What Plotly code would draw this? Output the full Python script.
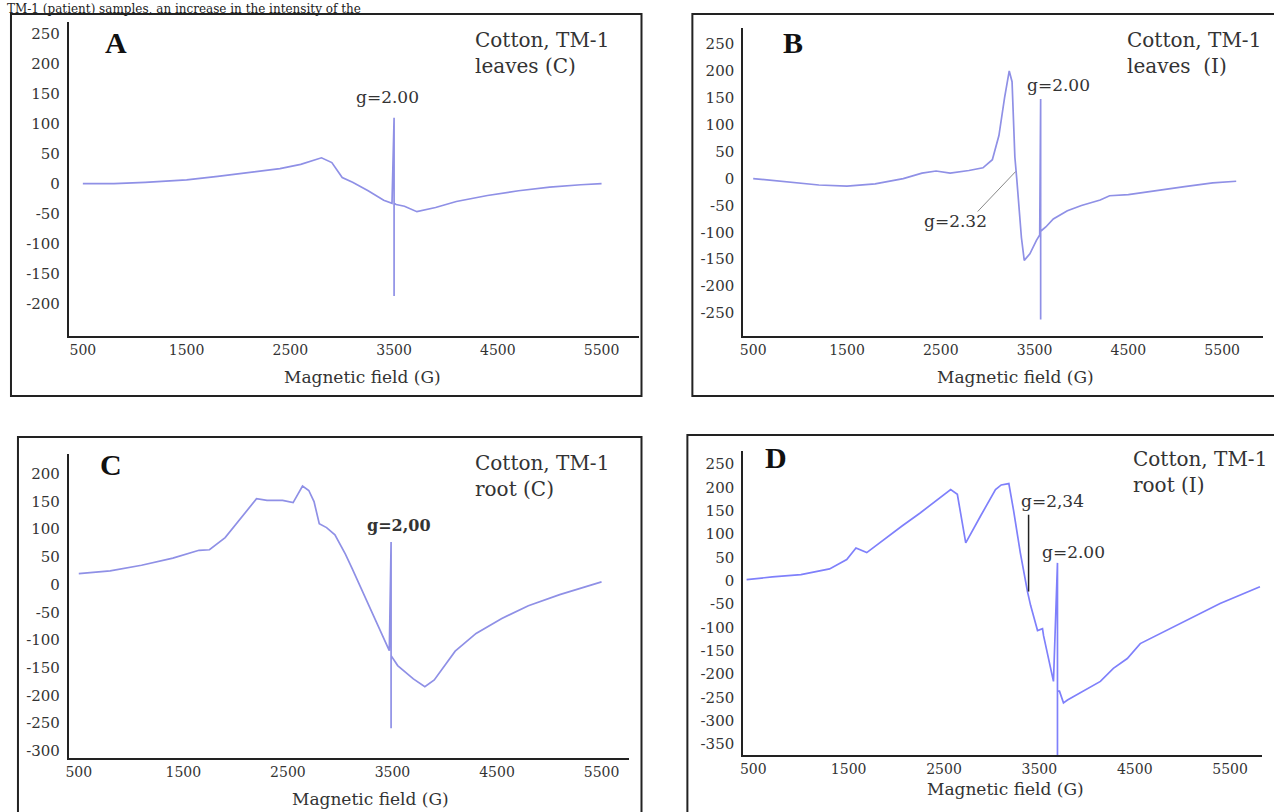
import plotly.graph_objects as go

W, H = 1274, 812

# ---------------- data ----------------
field_A = [500, 800, 1100, 1500, 1800, 2100, 2400, 2600, 2800, 2900, 3000, 3100, 3250, 3400, 3480,
           3500, 3500, 3500, 3520, 3600, 3720, 3900, 4100, 4400, 4700, 5000, 5300, 5500]
signal_A = [0, 0, 2, 6, 12, 18, 25, 32, 43, 35, 10, 2, -12, -28, -33,
            110, -188, -33, -35, -38, -47, -40, -30, -20, -12, -6, -2, 0]

field_B = [500, 800, 1200, 1500, 1800, 2100, 2300, 2450, 2600, 2800, 2950, 3050, 3120, 3180, 3230,
           3260, 3290, 3310, 3360, 3390, 3450, 3520, 3555,
           3565, 3565, 3565, 3620, 3700, 3850, 4000, 4200, 4300, 4500, 4800, 5100, 5400, 5650]
signal_B = [0, -5, -12, -14, -10, 0, 10, 14, 10, 15, 20, 35, 80, 150, 200,
            180, 40, 0, -110, -152, -140, -115, -105,
            148, -262, -98, -90, -75, -60, -50, -40, -32, -30, -22, -15, -8, -5]

field_C = [500, 800, 1100, 1400, 1650, 1750, 1900, 2050, 2200, 2300, 2450, 2550, 2640, 2700, 2750,
           2800, 2870, 2950, 3050, 3115, 3277, 3400, 3470,
           3487, 3487, 3487, 3550, 3700, 3810, 3900, 4100, 4300, 4546, 4800, 5100, 5400, 5500]
signal_C = [20, 25, 35, 48, 62, 63, 85, 120, 155, 152, 152, 148, 178, 170, 150,
            110, 103, 90, 55, 29, -38, -90, -119,
            77, -259, -128, -146, -170, -184, -172, -120, -88, -61, -38, -18, 0, 5]

field_D = [430, 700, 1000, 1300, 1480, 1577, 1690, 1850, 2060, 2250, 2430, 2570, 2640, 2728,
           2885, 2960, 3040, 3100, 3180, 3230, 3300, 3376, 3408, 3481, 3533, 3544, 3617, 3648,
           3690, 3690, 3690, 3711, 3753, 3795, 3962, 4140, 4276, 4422, 4558, 4976, 5395, 5813]
signal_D = [2, 8, 13, 25, 45, 70, 60, 85, 117, 145, 172, 195, 185, 81,
            139, 165, 195, 205, 208, 150, 60, -24, -53, -107, -103, -118, -188, -216,
            38, -374, -237, -237, -262, -256, -237, -216, -188, -167, -135, -92, -49, -13]

x_ticks = [500, 1500, 2500, 3500, 4500, 5500]
y_ticks_A = [250, 200, 150, 100, 50, 0, -50, -100, -150, -200]
y_ticks_B = [250, 200, 150, 100, 50, 0, -50, -100, -150, -200, -250]
y_ticks_C = [200, 150, 100, 50, 0, -50, -100, -150, -200, -250, -300]
y_ticks_D = [250, 200, 150, 100, 50, 0, -50, -100, -150, -200, -250, -300, -350]

# ---------------- layout helpers ----------------
def px(x):
    return x / W

def py(y):
    return 1 - y / H

FONT = "DejaVu Serif"
CURVE = "#8f90e6"

panels = [
    # name, fields, signals, y ticks, x-domain px, y-domain px (top,bottom), x range, y range
    ("A", field_A, signal_A, y_ticks_A, (66, 637), (22, 337), (365, 5856), (-255, 270)),
    ("B", field_B, signal_B, y_ticks_B, (742, 1263), (28, 337), (394, 5936), (-293, 280)),
    ("C", field_C, signal_C, y_ticks_C, (66, 627), (455, 760), (405, 5758), (-313, 236)),
    ("D", field_D, signal_D, y_ticks_D, (742, 1262), (452, 757), (395, 5835), (-374, 278)),
]

fig = go.Figure()
layout = dict(width=W, height=H, margin=dict(l=0, r=0, t=0, b=0),
              paper_bgcolor="white", plot_bgcolor="white", showlegend=False)

for i, (name, fx, sy, yt, xd, yd, xr, yr) in enumerate(panels):
    n = "" if i == 0 else str(i + 1)
    color = "#7f80fb" if name == "D" else CURVE
    fig.add_trace(go.Scatter(x=fx, y=sy, mode="lines", xaxis="x" + n, yaxis="y" + n,
                             line=dict(color=color, width=1.7), hoverinfo="skip"))
    layout["xaxis" + n] = dict(domain=[px(xd[0]), px(xd[1])], range=list(xr), anchor="y" + n,
                               tickvals=x_ticks, ticktext=[str(v) for v in x_ticks],
                               showline=True, linecolor="#222", linewidth=2,
                               showgrid=False, zeroline=False, ticks="",
                               tickfont=dict(family=FONT, size=14, color="#333"))
    layout["yaxis" + n] = dict(domain=[py(yd[1]), py(yd[0])], range=list(yr), anchor="x" + n,
                               tickvals=yt, ticktext=[str(v) for v in yt],
                               showline=True, linecolor="#222", linewidth=2,
                               showgrid=False, zeroline=False, ticks="",
                               ticklabelstandoff=4,
                               tickfont=dict(family=FONT, size=15, color="#333"))

fig.update_layout(**layout)

# panel borders
borders = [(8, 14, 640, 397), (691, 14, 1290, 397), (15, 438, 640, 830), (686, 436, 1290, 830)]
for x0, y0, x1, y1 in borders:
    fig.add_shape(type="rect", xref="paper", yref="paper",
                  x0=px(x0), y0=py(y1), x1=px(x1), y1=py(y0),
                  line=dict(color="#222", width=2), fillcolor="rgba(0,0,0,0)")

def note(x, y, text, size=16, bold=False, xanchor="center", yanchor="middle", color="#333",
         family=FONT):
    t = f"<b>{text}</b>" if bold else text
    fig.add_annotation(x=px(x), y=py(y), xref="paper", yref="paper", text=t, showarrow=False,
                       xanchor=xanchor, yanchor=yanchor, align="left",
                       font=dict(family=family, size=size, color=color))

# panel letters
LET = "Liberation Serif"
note(113, 43, "A", size=30, bold=True, color="#111", family=LET)
note(792, 43, "B", size=30, bold=True, color="#111", family=LET)
note(108, 466, "C", size=30, bold=True, color="#111", family=LET)
note(775, 459, "D", size=30, bold=True, color="#111", family=LET)

# sample labels
note(471, 26, "Cotton, TM-1<br>leaves (C)", size=20, xanchor="left", yanchor="top")
note(1125, 26, "Cotton, TM-1<br>leaves  (I)", size=20, xanchor="left", yanchor="top")
note(471, 450, "Cotton, TM-1<br>root (C)", size=20, xanchor="left", yanchor="top")
note(1131, 446, "Cotton, TM-1<br>root (I)", size=20, xanchor="left", yanchor="top")

# g-value labels
note(385, 97, "g=2.00", size=17)
note(1058, 85, "g=2.00", size=17)
note(955, 222, "g=2.32", size=17)
note(397, 527, "g=2,00", size=16, bold=True)
note(1052, 502, "g=2,34", size=17)
note(1073, 553, "g=2.00", size=17)

# pointer lines
fig.add_shape(type="line", xref="paper", yref="paper", x0=px(977), y0=py(212), x1=px(1015), y1=py(172),
              line=dict(color="#888", width=1))
fig.add_shape(type="line", xref="paper", yref="paper", x0=px(1028), y0=py(516), x1=px(1028), y1=py(593),
              line=dict(color="#222", width=1.5))

# axis titles
note(360, 378, "Magnetic field (G)", size=17)
note(1015, 378, "Magnetic field (G)", size=17)
note(368, 801, "Magnetic field (G)", size=17)
note(1005, 791, "Magnetic field (G)", size=17)

# running text at the top of the page (cropped in the source)
note(2, 0, "TM-1 (patient) samples, an increase in the intensity of the", size=12,
     xanchor="left", yanchor="top", color="#222")

fig.write_html("out.html")
